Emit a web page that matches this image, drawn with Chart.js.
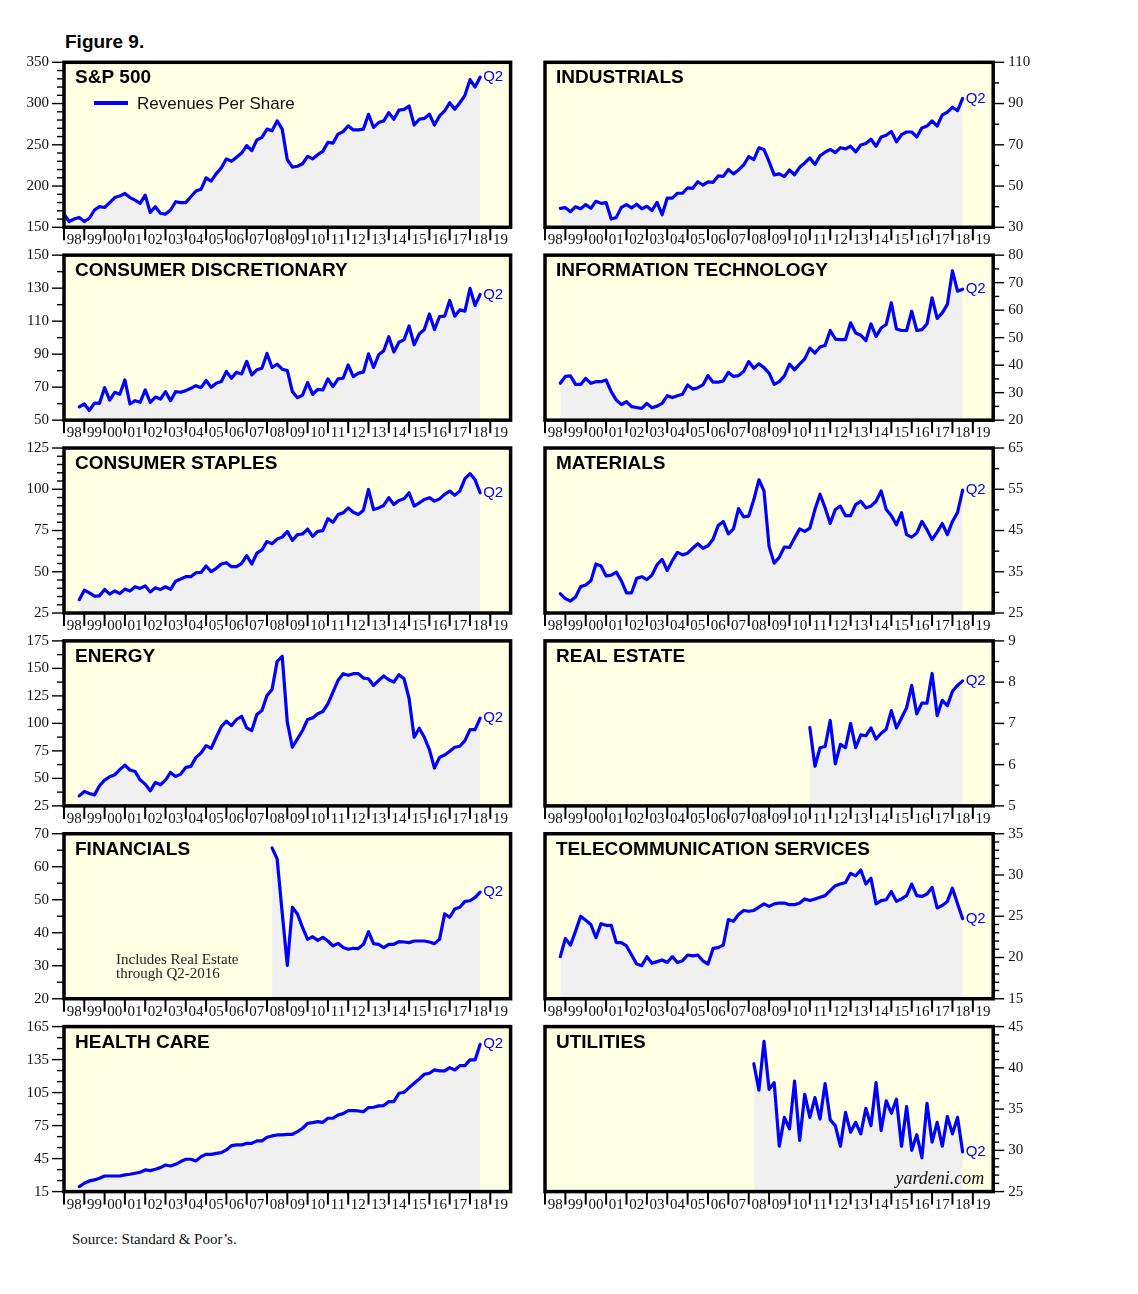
<!DOCTYPE html>
<html>
<head>
<meta charset="utf-8">
<script src="https://cdn.jsdelivr.net/npm/chart.js@4.4.1/dist/chart.umd.min.js"></script>
<style>
html,body{margin:0;padding:0;background:#fff;}
#page{position:relative;width:1138px;height:1294px;overflow:hidden;background:#fff;}
.panel{position:absolute;}
.fig{position:absolute;left:65px;top:32px;font:bold 19px "Liberation Sans",Arial,sans-serif;line-height:19px;color:#000;white-space:nowrap;}
.src{position:absolute;left:72px;top:1232px;font:15px "Liberation Serif","Times New Roman",serif;line-height:15px;color:#111;white-space:nowrap;}
</style>
</head>
<body>
<div id="page">
  <div class="fig">Figure 9.</div>
  <div class="src">Source: Standard &amp; Poor’s.</div>
</div>
<script>
// ---------- tick labels ----------
const yearLabels = ['98','99','00','01','02','03','04','05','06','07','08','09','10','11','12','13','14','15','16','17','18','19'];
const firstYear = 1998, lastYear = 2020;

// ---------- first quarter of each series (quarter-end position in years) ----------
const sp500Start = 1998.0;
const sectorStart = 1998.75;
const realEstateStart = 2011.0;
const postCrisisStart = 2008.25;
const lastLabel = 'Q2';

// ---------- series values (quarterly, revenues per share) ----------
const sp500 = [166,157,160,162, 157,161,171,175, 174,180,186,188, 191,186,183,179, 189,168,175,167,
  166,171,181,180, 180,187,194,196, 210,206,215,222, 233,230,235,240, 249,243,256,259,
  269,267,279,269, 232,223,224,227, 236,233,238,242, 253,252,263,266, 273,268,268,269,
  287,271,277,279, 289,281,292,293, 297,274,281,282, 287,274,285,291, 301,293,301,310, 329,320,332];

const industrials = [39.2, 39.5,37.6,40.0,39.0, 41.0,39.2,42.6,41.6, 42.0,34.0,34.8,39.7, 41.0,39.4,41.2,39.0,
  40.2,38.1,42.1,36.1, 44.2,44.1,46.5,46.5, 49.1,48.9,52.1,50.5, 52.0,51.8,54.9,54.7, 58.0,55.9,57.8,60.2,
  64.3,62.8,68.5,67.7, 61.8,55.4,55.9,54.6, 57.8,55.5,59.1,61.2, 63.6,60.4,64.7,66.4, 67.8,66.2,68.6,68.0,
  69.3,66.5,69.9,70.6, 72.7,69.3,73.8,74.6, 76.5,71.5,74.9,76.2, 76.2,73.8,78.2,79.1, 81.6,79.1,84.5,85.8,
  88.2,86.6,92.5];

const consumerDiscretionary = [58.1, 59.8,55.9,60.4,60.2, 69.7,62.2,66.9,65.7, 74.4,59.8,61.8,60.8, 68.3,60.8,64.0,62.8,
  67.3,61.8,67.3,66.9, 67.9,69.3,70.9,69.7, 74.0,69.9,72.4,73.4, 79.5,75.4,79.1,78.0, 85.6,77.4,80.5,81.5,
  90.4,81.9,83.9,80.9, 80.1,67.3,63.6,65.2, 72.8,65.7,68.7,68.3, 75.0,70.3,75.0,75.4, 83.5,76.4,78.5,79.1,
  90.2,81.9,89.6,92.1, 100.6,91.3,97.2,98.8, 107.1,95.7,102.2,104.9, 114.4,104.9,112.8,113.0, 122.6,113.0,116.9,116.1,
  129.9,119.5,126.2];

const informationTechnology = [33.4, 35.9,36.1,33.0,33.0, 35.2,33.4,34.0,34.0, 34.6,30.4,27.3,25.7, 26.7,24.9,24.6,24.3,
  26.1,24.5,25.1,26.1, 28.9,28.2,28.9,29.4, 32.8,31.3,31.8,32.8, 36.2,33.8,33.8,34.3, 37.4,35.9,36.2,37.7,
  41.3,38.9,40.5,39.1, 37.1,33.0,34.0,36.1, 40.4,38.3,40.4,42.3, 46.2,44.4,46.6,47.2, 52.6,49.5,49.3,49.3,
  55.4,51.7,50.9,48.9, 55.0,50.5,53.5,54.8, 62.7,53.2,52.6,52.6, 59.6,52.6,52.9,55.0, 64.5,57.0,59.0,62.1,
  74.3,66.9,67.6];

const consumerStaples = [33.1, 38.8,37.2,35.2,35.4, 39.3,36.4,38.4,36.8, 39.5,38.4,40.9,39.9, 41.5,37.8,40.3,39.3,
  40.9,39.3,44.3,45.6, 47.0,47.0,49.4,49.6, 53.5,50.1,52.1,54.7, 55.5,53.1,53.1,55.1, 59.8,54.7,61.3,63.3,
  68.4,67.0,69.8,71.0, 74.5,69.0,72.5,72.9, 75.9,71.4,74.5,74.9, 82.2,80.0,84.7,85.7, 88.7,86.1,84.7,87.3,
  99.9,87.7,88.7,90.2, 94.9,90.8,93.2,94.2, 97.9,89.8,91.8,93.8, 94.9,92.8,94.2,96.9, 98.9,96.3,98.9,106.5,
  109.5,105.7,97.9];

const materials = [29.7, 28.5,27.9,28.9,31.4, 31.8,32.8,36.9,36.4, 34.0,34.2,34.9,32.8, 29.9,29.9,33.4,33.8,
  33.1,34.2,36.7,38.0, 35.3,37.7,39.7,39.1, 39.5,40.7,41.8,40.7, 41.3,42.9,46.2,47.2, 44.2,45.4,50.3,48.3,
  48.5,52.5,57.3,54.6, 41.1,37.1,38.5,41.0, 40.9,43.2,45.4,44.8, 45.6,50.1,53.8,50.5, 46.7,50.1,50.9,48.6,
  48.6,51.3,52.1,50.5, 50.9,52.1,54.6,50.1, 48.6,46.4,49.3,44.0, 43.4,44.4,47.2,45.2, 42.8,44.6,46.7,44.0,
  47.2,49.4,54.8];

const energy = [34.1, 38.1,36.3,35.0,43.3, 48.4,51.5,53.3,57.9, 62.1,57.6,56.3,48.7, 44.8,38.7,46.3,44.2,
  48.4,55.4,51.8,53.9, 60.0,60.9,69.1,73.1, 79.8,77.3,87.4,97.1, 102.0,98.0,103.5,106.5, 95.9,93.5,108.1,111.7,
  125.4,130.9,156.4,161.0, 101.1,78.3,85.9,93.5, 103.5,105.0,108.7,110.8, 117.8,128.5,139.1,145.2, 143.7,145.2,145.2,141.2,
  140.6,134.5,139.1,143.1, 139.7,137.6,144.3,140.6, 122.4,87.4,95.6,87.4, 76.1,59.4,69.1,71.3, 74.6,78.3,79.2,84.3,
  94.4,94.4,104.7];

const realEstate = [6.90,5.96,6.41,6.44, 7.07,6.02,6.49,6.41, 7.00,6.41,6.72,6.70, 6.89,6.62,6.76,6.86,
  7.31,6.89,7.13,7.38, 7.92,7.23,7.49,7.49, 8.21,7.19,7.56,7.43, 7.78,7.92,8.03];

const financials = [65.7,62.4,46.0, 30.1,47.7,45.7,41.6, 38.0,38.8,37.7,38.6, 37.5,36.0,36.8,35.5,
  35.0,35.3,35.2,36.5, 40.3,36.7,36.5,35.5, 36.5,36.5,37.3,37.2, 37.0,37.5,37.5,37.5,
  37.2,36.7,38.0,45.7, 44.7,47.2,47.7,49.5, 49.7,50.7,52.3];

const telecom = [20.1, 22.3,21.5,23.2,25.0, 24.5,24.0,22.4,24.1, 23.9,23.9,21.8,21.8, 21.4,20.3,19.2,19.0,
  20.1,19.3,19.5,19.7, 19.4,20.1,19.4,19.6, 20.3,20.2,20.3,19.6, 19.2,21.1,21.2,21.5, 24.6,24.4,25.2,25.7,
  25.6,25.7,26.1,26.5, 26.2,26.5,26.6,26.6, 26.4,26.4,26.6,27.1, 26.9,27.1,27.3,27.5, 28.1,28.7,28.9,29.1,
  30.2,29.9,30.6,28.9, 29.6,26.5,26.9,27.0, 28.0,26.8,27.1,27.5, 28.9,27.5,27.4,27.7, 28.5,26.0,26.3,26.8,
  28.4,26.5,24.7];

const healthCare = [19.5, 22.6,24.7,25.6,27.1, 29.2,29.2,29.2,29.2, 30.2,30.8,31.7,32.6, 34.7,34.1,35.3,36.8,
  39.2,38.3,39.8,42.3, 44.4,44.4,42.9,46.8, 48.9,48.9,49.8,50.5, 52.9,56.8,57.4,57.4, 58.9,58.9,61.1,61.1,
  64.4,65.6,66.5,66.5, 67.1,67.1,69.5,72.6, 77.1,77.7,78.6,78.0, 81.7,81.7,84.7,85.9, 88.6,88.6,88.3,87.7,
  91.4,91.7,92.9,93.2, 96.8,96.8,104.4,105.3, 109.5,113.5,117.4,121.7, 122.6,125.6,124.7,124.7, 127.7,125.6,129.5,129.5,
  134.7,134.7,148.9];

const utilities = [40.5,37.3,43.2, 37.4,38.2,30.5,34.0, 32.6,38.4,31.2,36.8, 34.0,36.4,33.8,38.1,
  33.7,33.0,30.5,34.6, 32.2,33.4,32.0,35.1, 33.0,38.2,32.4,36.0, 34.5,36.2,30.5,35.3,
  30.0,31.9,29.1,35.7, 31.0,33.4,30.5,34.1, 32.0,34.0,29.8];

// ---------- panels ----------
const panels = [
  {title:'S&P 500', data:sp500, start:sp500Start, min:150, max:350, step:50, minor:10, col:0, row:0, extra:'legend'},
  {title:'INDUSTRIALS', data:industrials, start:sectorStart, min:30, max:110, step:20, minor:10, col:1, row:0},
  {title:'CONSUMER DISCRETIONARY', data:consumerDiscretionary, start:sectorStart, min:50, max:150, step:20, minor:10, col:0, row:1},
  {title:'INFORMATION TECHNOLOGY', data:informationTechnology, start:sectorStart, min:20, max:80, step:10, minor:5, col:1, row:1},
  {title:'CONSUMER STAPLES', data:consumerStaples, start:sectorStart, min:25, max:125, step:25, minor:5, col:0, row:2},
  {title:'MATERIALS', data:materials, start:sectorStart, min:25, max:65, step:10, minor:5, col:1, row:2},
  {title:'ENERGY', data:energy, start:sectorStart, min:25, max:175, step:25, minor:12.5, col:0, row:3},
  {title:'REAL ESTATE', data:realEstate, start:realEstateStart, min:5, max:9, step:1, minor:0.5, col:1, row:3},
  {title:'FINANCIALS', data:financials, start:postCrisisStart, min:20, max:70, step:10, minor:5, col:0, row:4, extra:'note'},
  {title:'TELECOMMUNICATION SERVICES', data:telecom, start:sectorStart, min:15, max:35, step:5, minor:1, col:1, row:4},
  {title:'HEALTH CARE', data:healthCare, start:sectorStart, min:15, max:165, step:30, minor:10, col:0, row:5},
  {title:'UTILITIES', data:utilities, start:postCrisisStart, min:25, max:45, step:5, minor:1, col:1, row:5, extra:'brand'}
];

// ---------- layout / style ----------
const ROW0 = 62.3, ROW_STEP = 192.86, PLOT_H = 165;
const COLS = [
  {canvasLeft:0, width:530, plotLeft:64, plotRight:510.6, side:'left'},
  {canvasLeft:530, width:530, plotLeft:545, plotRight:993.2, side:'right'}
];
const CANVAS_H = 209;
const PLOT_BG = '#ffffe3';
const FILL = '#f0f0f0';
const LINE = '#0000ff';
const SERIF = '"Liberation Serif", "Times New Roman", serif';
const SANS = '"Liberation Sans", Arial, sans-serif';

function toPoints(values, start) {
  return values.map((v, i) => ({x: start + i * 0.25, y: v}));
}

function makeDeco(p, col) {
  return {
    id: 'deco',
    beforeDraw(chart) {
      const {ctx, chartArea: a} = chart;
      ctx.save();
      ctx.fillStyle = PLOT_BG;
      ctx.fillRect(a.left, a.top, a.right - a.left, a.bottom - a.top);
      ctx.restore();
    },
    afterDraw(chart) {
      const {ctx, chartArea: a} = chart;
      const xs = chart.scales.x, ys = chart.scales.y;
      const line = (x1, y1, x2, y2) => { ctx.beginPath(); ctx.moveTo(x1, y1); ctx.lineTo(x2, y2); ctx.stroke(); };
      ctx.save();
      ctx.strokeStyle = '#000';
      // year tick marks
      ctx.lineWidth = 2;
      for (let yr = firstYear; yr < lastYear; yr++) {
        const px = xs.getPixelForValue(yr);
        line(px, a.bottom, px, a.bottom + 13);
      }
      // value tick marks (major + minor)
      ctx.lineWidth = 1.4;
      const n = Math.round((p.max - p.min) / p.minor);
      for (let i = 0; i <= n; i++) {
        const v = p.min + i * p.minor;
        const r = (v - p.min) / p.step;
        const major = Math.abs(r - Math.round(r)) < 1e-6;
        const len = major ? 11 : 6;
        const py = ys.getPixelForValue(v);
        if (col.side === 'left') line(a.left - len - 1, py, a.left, py);
        else line(a.right, py, a.right + len, py);
      }
      // frame
      ctx.lineWidth = 3.5;
      ctx.strokeRect(a.left, a.top, a.right - a.left, a.bottom - a.top);
      // title
      ctx.fillStyle = '#000';
      ctx.font = 'bold 19px ' + SANS;
      ctx.textAlign = 'left';
      ctx.textBaseline = 'alphabetic';
      ctx.fillText(p.title, a.left + 11, a.top + 21);
      // Q2 label at last point
      const last = p.data.length - 1;
      const lx = xs.getPixelForValue(p.start + last * 0.25);
      const ly = ys.getPixelForValue(p.data[last]);
      ctx.fillStyle = LINE;
      ctx.font = '15px ' + SANS;
      ctx.textBaseline = 'middle';
      ctx.fillText(lastLabel, lx + 3, ly);
      // extras
      if (p.extra === 'legend') {
        ctx.strokeStyle = LINE;
        ctx.lineWidth = 4;
        line(a.left + 30, a.top + 40.7, a.left + 64, a.top + 40.7);
        ctx.fillStyle = '#111';
        ctx.font = '17px ' + SANS;
        ctx.textBaseline = 'alphabetic';
        ctx.fillText('Revenues Per Share', a.left + 73, a.top + 46.7);
      } else if (p.extra === 'note') {
        ctx.fillStyle = '#222';
        ctx.font = '15px ' + SERIF;
        ctx.textBaseline = 'alphabetic';
        ctx.fillText('Includes Real Estate', a.left + 52, a.top + 129.8);
        ctx.fillText('through Q2-2016', a.left + 52, a.top + 144.3);
      } else if (p.extra === 'brand') {
        ctx.fillStyle = '#111';
        ctx.font = 'italic 18px ' + SERIF;
        ctx.textAlign = 'right';
        ctx.textBaseline = 'alphabetic';
        ctx.fillText('yardeni.com', a.right - 9, a.top + 157.5);
      }
      ctx.restore();
    }
  };
}

const page = document.getElementById('page');

panels.forEach((p) => {
  const col = COLS[p.col];
  const rowTop = ROW0 + p.row * ROW_STEP;
  const canvasTop = Math.round(rowTop) - 14;
  const padTop = rowTop - canvasTop;
  const xAxisH = CANVAS_H - padTop - PLOT_H;
  const padLeft = col.side === 'left' ? 0 : col.plotLeft - col.canvasLeft;
  const padRight = col.side === 'left' ? (col.canvasLeft + col.width) - col.plotRight : 0;
  const yAxisW = col.side === 'left' ? col.plotLeft - col.canvasLeft : (col.canvasLeft + col.width) - col.plotRight;

  const wrap = document.createElement('div');
  wrap.className = 'panel';
  wrap.style.left = col.canvasLeft + 'px';
  wrap.style.top = canvasTop + 'px';
  wrap.style.width = col.width + 'px';
  wrap.style.height = CANVAS_H + 'px';
  const cv = document.createElement('canvas');
  cv.width = col.width; cv.height = CANVAS_H;
  cv.style.width = col.width + 'px'; cv.style.height = CANVAS_H + 'px';
  wrap.appendChild(cv);
  page.appendChild(wrap);

  new Chart(cv.getContext('2d'), {
    type: 'line',
    data: {
      datasets: [{
        data: toPoints(p.data, p.start),
        borderColor: LINE,
        borderWidth: 3.2,
        backgroundColor: FILL,
        fill: 'start',
        pointRadius: 0,
        tension: 0,
        borderJoinStyle: 'round',
        borderCapStyle: 'round'
      }]
    },
    options: {
      responsive: false,
      animation: false,
      events: [],
      layout: {padding: {top: padTop, left: padLeft, right: padRight, bottom: 0}},
      plugins: {legend: {display: false}, tooltip: {enabled: false}, title: {display: false}},
      scales: {
        x: {
          type: 'linear', position: 'bottom', min: firstYear, max: lastYear,
          grid: {display: false, drawTicks: false}, border: {display: false},
          ticks: {
            autoSkip: false, maxRotation: 0, minRotation: 0, padding: 4,
            font: {family: SERIF, size: 15}, color: '#111',
            callback: (v) => yearLabels[Math.floor(v) - firstYear]
          },
          afterBuildTicks: (s) => { s.ticks = yearLabels.map((_, i) => ({value: firstYear + i + 0.5})); },
          afterFit: (s) => { s.height = xAxisH; s.paddingLeft = 0; s.paddingRight = 0; }
        },
        y: {
          type: 'linear', position: col.side, min: p.min, max: p.max,
          grid: {display: false, drawTicks: false}, border: {display: false},
          ticks: {
            padding: col.side === 'left' ? 15 : 15,
            font: {family: SERIF, size: 15}, color: '#111',
            callback: (v) => String(Math.round(v * 100) / 100)
          },
          afterBuildTicks: (s) => {
            const t = [];
            const n = Math.round((p.max - p.min) / p.step);
            for (let i = 0; i <= n; i++) t.push({value: p.min + i * p.step});
            s.ticks = t;
          },
          afterFit: (s) => { s.width = yAxisW; s.paddingTop = 0; s.paddingBottom = 0; }
        }
      }
    },
    plugins: [makeDeco(p, col)]
  });
});
</script>
</body>
</html>
